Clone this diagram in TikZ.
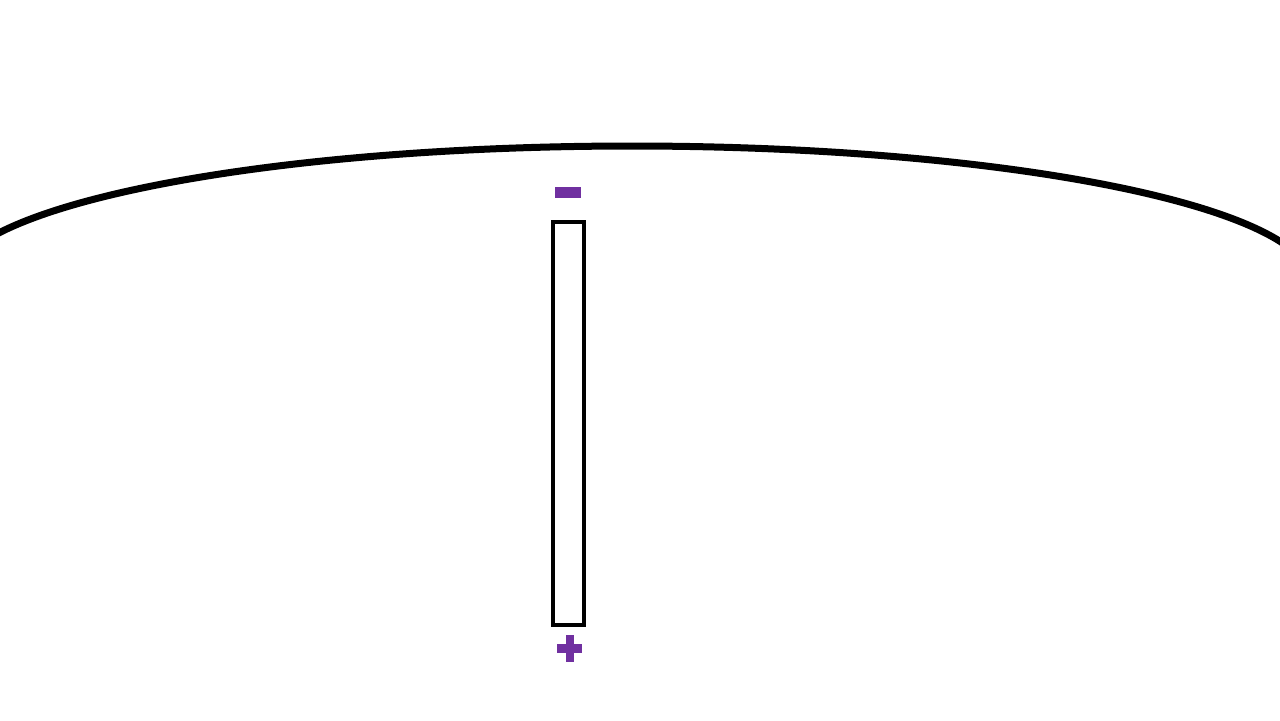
\documentclass[tikz,border=0pt]{standalone}
\usetikzlibrary{positioning}
\definecolor{ink}{HTML}{000000}
\definecolor{charge}{HTML}{7030A0}
\tikzset{plate/.style={draw=ink,line width=2pt,fill=white,minimum width=15.5pt,minimum height=201.5pt,inner sep=0pt},
 bar/.style={fill=charge,draw=none,inner sep=0pt},
 shell/.style={draw=ink,line width=3.5pt}}
\begin{document}
\begin{tikzpicture}[x=0.5pt,y=-0.5pt]
\useasboundingbox (0,0) rectangle (1280,720);
\clip (0,0) rectangle (1280,720);
% curved surface (upper half only)
\draw[shell] (-48,283) arc[start angle=180,end angle=0,x radius=340pt,y radius=68.5pt];
% plate with its charges
\node[plate] (plate) at (568.5,423.5) {};
\node[bar,minimum width=13pt,minimum height=5.5pt] (minus) at (568,192.5) {};
\node[bar,minimum width=12.5pt,minimum height=4.5pt] (plush) at (569.5,648.5) {};
\node[bar,minimum width=4pt,minimum height=13.5pt] (plusv) at (plush) {};
\end{tikzpicture}
\end{document}
